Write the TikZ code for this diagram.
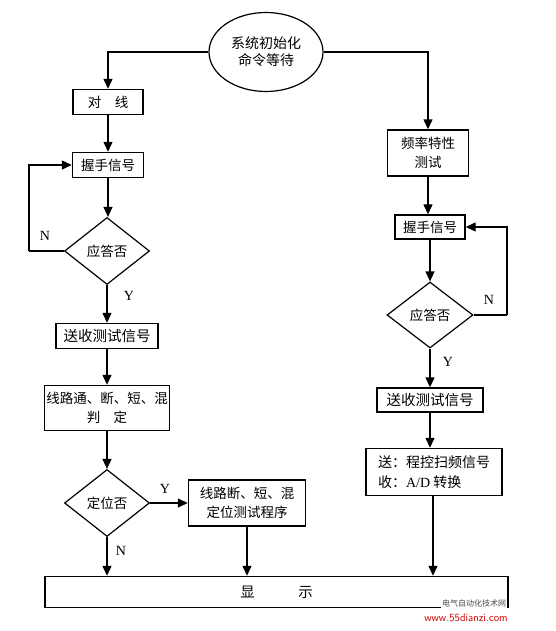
\documentclass[tikz,border=0pt]{standalone}
\usepackage{fontspec}
\setmainfont{Liberation Serif}
\newfontfamily\cjk{Noto Sans CJK SC}
\usetikzlibrary{shapes.geometric,arrows.meta}
\tikzset{
  every node/.style={font=\fontsize{13.5}{15}\selectfont\cjk},
  box/.style={draw,line width=1.4pt,inner sep=0pt,align=center},
  dia/.style={draw,diamond,line width=1.2pt,inner sep=0pt,minimum width=85pt,minimum height=67pt},
  lab/.style={font=\fontsize{14}{16}\selectfont\rmfamily},
  conn/.style={line width=1.3pt,-{Triangle[length=10pt,width=9pt]}},
  plain/.style={line width=1.3pt}
}
\begin{document}
\begin{tikzpicture}[x=1pt,y=-1pt]
\useasboundingbox (0,0) rectangle (556,631);
% nodes
\node[draw,ellipse,line width=1.2pt,minimum width=114pt,minimum height=79pt,inner sep=0pt,align=center,font=\fontsize{14}{17}\selectfont\cjk] (init) at (266,52) {系统初始化\\命令等待};
\node[box,minimum width=70pt,minimum height=25pt] (dx) at (108,102) {对\quad 线};
\node[box,minimum width=71pt,minimum height=25pt] (hs1) at (108,165) {握手信号};
\node[dia] (d1) at (107,251) {应答否};
\node[box,minimum width=102pt,minimum height=25pt,font=\fontsize{14.5}{16}\selectfont\cjk] (ss1) at (107,336) {送收测试信号};
\node[box,minimum width=125pt,minimum height=45pt,font=\fontsize{13.5}{19}\selectfont\cjk] (pd) at (107,408) {线路通、断、短、混\\判\quad 定};
\node[dia] (d2) at (107,503) {定位否};
\node[box,minimum width=117pt,minimum height=46pt,font=\fontsize{13.5}{19}\selectfont\cjk] (loc) at (247,503) {线路断、短、混\\定位测试程序};
\node[box,minimum width=463pt,minimum height=31pt,font=\fontsize{14.5}{16}\selectfont\cjk] (disp) at (276.5,592) {显\qquad\quad 示};
\node[box,minimum width=81pt,minimum height=46pt,font=\fontsize{13.5}{19}\selectfont\cjk] (pl) at (428,153) {频率特性\\测试};
\node[box,minimum width=70pt,minimum height=24pt] (hs2) at (430,227) {握手信号};
\node[dia,minimum width=86pt,minimum height=66pt] (d3) at (430,315) {应答否};
\node[box,minimum width=106pt,minimum height=24pt,font=\fontsize{14.5}{16}\selectfont\cjk] (ss2) at (430,400) {送收测试信号};
\node[box,minimum width=136pt,minimum height=47pt,align=left,font=\fontsize{14}{20}\selectfont\cjk] (sc) at (434,472) {送：程控扫频信号\\收：{\rmfamily A/D} 转换};
% labels
\node[lab] (n1) at (45,236) {N};
\node[lab] (y1) at (129,296) {Y};
\node[lab] (y2) at (165,489) {Y};
\node[lab] (n2) at (121,551) {N};
\node[lab] (n3) at (489,300) {N};
\node[lab] (y3) at (448,362) {Y};
% loop coordinates
\coordinate (lp1) at (29,251);
\coordinate (lp2) at (507,315);
% connectors
\draw[conn] (init.west) -| (dx.north);
\draw[conn] (init.east) -| (pl.north);
\draw[conn] (dx.south) -- (dx.south |- hs1.north);
\draw[conn] (hs1.south) -- (hs1.south |- d1.north);
\draw[plain] (d1.west) -- (lp1);
\draw[conn] (lp1) |- (hs1.west);
\draw[conn] (d1.south) -- (d1.south |- ss1.north);
\draw[conn] (ss1.south) -- (ss1.south |- pd.north);
\draw[conn] (pd.south) -- (pd.south |- d2.north);
\draw[conn] (d2.east) -- (loc.west);
\draw[conn] (d2.south) -- (d2.south |- disp.north);
\draw[conn] (loc.south) -- (loc.south |- disp.north);
\draw[conn] (pl.south) -- (pl.south |- hs2.north);
\draw[conn] (hs2.south) -- (hs2.south |- d3.north);
\draw[plain] (d3.east) -- (lp2);
\draw[conn] (lp2) |- (hs2.east);
\draw[conn] (d3.south) -- (d3.south |- ss2.north);
\draw[conn] (ss2.south) -- (ss2.south |- sc.north);
\draw[conn] ([xshift=-1pt]sc.south) -- ([xshift=-1pt]sc.south |- disp.north);
% watermark
\node[font=\fontsize{8}{9}\selectfont\cjk,text=black!70,fill=white,inner sep=1pt] (wm1) at (474,603) {电气自动化技术网};
\node[font=\fontsize{11}{12}\selectfont\sffamily,text=red!80!black] (wm2) at (466,618) {www.55dianzi.com};
\end{tikzpicture}
\end{document}
